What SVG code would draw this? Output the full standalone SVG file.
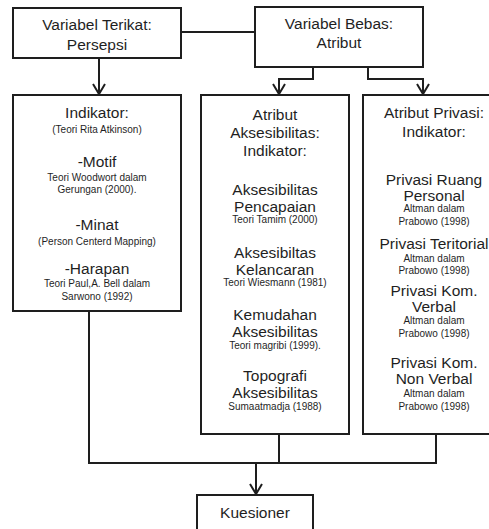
<svg xmlns="http://www.w3.org/2000/svg" width="489" height="529" viewBox="0 0 489 529">
<style>
.box{fill:#fff;stroke:#1e1e1e;stroke-width:2}
.ln{fill:none;stroke:#1e1e1e;stroke-width:2}
text{font-family:"Liberation Sans",Arial,sans-serif;fill:#1f1f1f;text-anchor:middle}
.m{font-size:15.5px}
.s{font-size:10px}
</style>
<defs>
<marker id="arr" markerUnits="userSpaceOnUse" markerWidth="20" markerHeight="20" viewBox="-12 -10 14 20" refX="0" refY="0" orient="auto">
<path d="M-10,-6 L0,0 L-10,6" fill="none" stroke="#1e1e1e" stroke-width="2"/>
</marker>
</defs>
<rect width="489" height="529" fill="#fff"/>
<g id="connectors">
<line class="ln" x1="181" y1="32" x2="255" y2="32"/>
<polyline class="ln" points="99,58 99,94" marker-end="url(#arr)"/>
<polyline class="ln" points="313,67 313,79 279,79 279,94" marker-end="url(#arr)"/>
<polyline class="ln" points="368,67 368,79 423,79 423,94" marker-end="url(#arr)"/>
<polyline class="ln" points="89,311 89,463 436,463 436,434"/>
<line class="ln" x1="279" y1="434" x2="279" y2="463"/>
<polyline class="ln" points="256,463 256,494" marker-end="url(#arr)"/>
</g>
<g id="n_terikat">
<rect class="box" x="13" y="8" width="168" height="50"/>
<text class="m" x="97" y="30">Variabel Terikat:</text>
<text class="m" x="97" y="50">Persepsi</text>
</g>
<g id="n_bebas">
<rect class="box" x="255" y="7" width="168" height="60"/>
<text class="m" x="339" y="29">Variabel Bebas:</text>
<text class="m" x="339" y="48">Atribut</text>
</g>
<g id="n_persepsi_ind">
<rect class="box" x="13" y="95" width="168" height="216"/>
<text class="m" x="97" y="118">Indikator:</text>
<text class="s" x="97" y="132.5">(Teori Rita Atkinson)</text>
<text class="m" x="97" y="167">-Motif</text>
<text class="s" x="97" y="180.5">Teori Woodwort dalam</text>
<text class="s" x="97" y="192.5">Gerungan (2000).</text>
<text class="m" x="97" y="230">-Minat</text>
<text class="s" x="97" y="244.5">(Person Centerd Mapping)</text>
<text class="m" x="97" y="274">-Harapan</text>
<text class="s" x="97" y="286.5">Teori Paul,A. Bell dalam</text>
<text class="s" x="97" y="299.5">Sarwono (1992)</text>
</g>
<g id="n_aksesibilitas">
<rect class="box" x="201" y="95" width="148" height="339"/>
<text class="m" x="275" y="120">Atribut</text>
<text class="m" x="275" y="138">Aksesibilitas:</text>
<text class="m" x="275" y="156">Indikator:</text>
<text class="m" x="275" y="195">Aksesibilitas</text>
<text class="m" x="275" y="212">Pencapaian</text>
<text class="s" x="275" y="222.5">Teori Tamim (2000)</text>
<text class="m" x="275" y="258">Aksesibiltas</text>
<text class="m" x="275" y="275">Kelancaran</text>
<text class="s" x="275" y="285.5">Teori Wiesmann (1981)</text>
<text class="m" x="275" y="320">Kemudahan</text>
<text class="m" x="275" y="337">Aksesibilitas</text>
<text class="s" x="275" y="348.5">Teori magribi (1999).</text>
<text class="m" x="275" y="381">Topografi</text>
<text class="m" x="275" y="398">Aksesibilitas</text>
<text class="s" x="275" y="410">Sumaatmadja (1988)</text>
</g>
<g id="n_privasi">
<rect class="box" x="363" y="95" width="142" height="339"/>
<text class="m" x="434" y="118">Atribut Privasi:</text>
<text class="m" x="434" y="137">Indikator:</text>
<text class="m" x="434" y="185">Privasi Ruang</text>
<text class="m" x="434" y="201">Personal</text>
<text class="s" x="434" y="212">Altman dalam</text>
<text class="s" x="434" y="225">Prabowo (1998)</text>
<text class="m" x="434" y="249">Privasi Teritorial</text>
<text class="s" x="434" y="261.5">Altman dalam</text>
<text class="s" x="434" y="273.5">Prabowo (1998)</text>
<text class="m" x="434" y="296">Privasi Kom.</text>
<text class="m" x="434" y="312">Verbal</text>
<text class="s" x="434" y="323.5">Altman dalam</text>
<text class="s" x="434" y="337">Prabowo (1998)</text>
<text class="m" x="434" y="368">Privasi Kom.</text>
<text class="m" x="434" y="384">Non Verbal</text>
<text class="s" x="434" y="396.5">Altman dalam</text>
<text class="s" x="434" y="410">Prabowo (1998)</text>
</g>
<g id="n_kuesioner">
<rect class="box" x="197" y="495" width="116" height="45"/>
<text class="m" x="255" y="518">Kuesioner</text>
</g>
</svg>
